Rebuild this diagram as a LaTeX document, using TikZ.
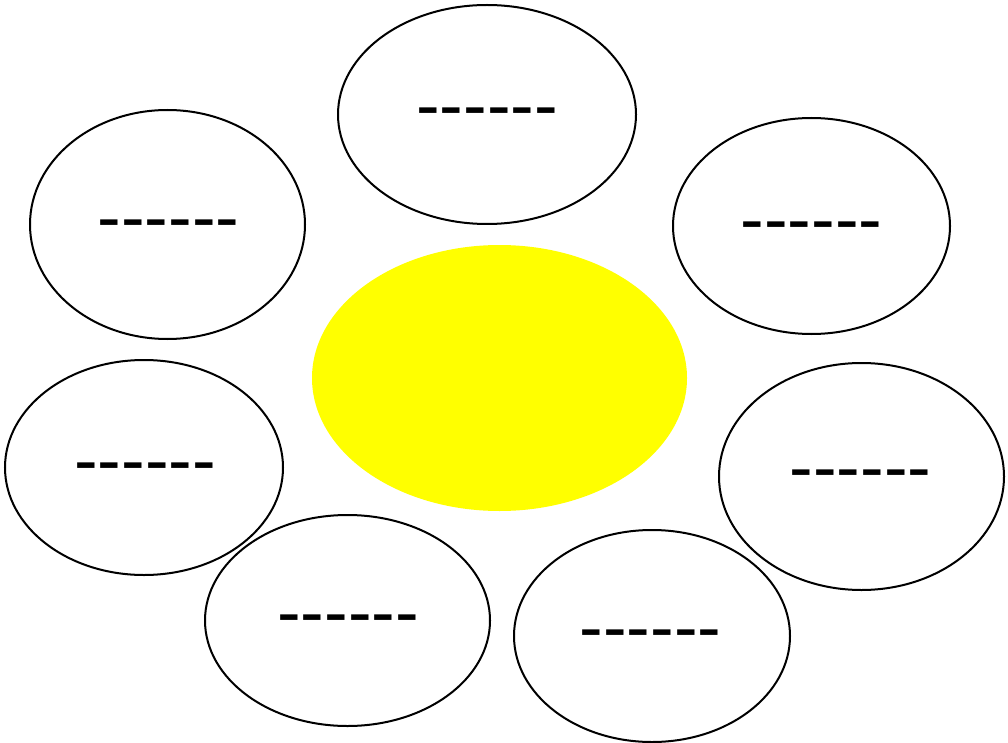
\documentclass[tikz,border=0pt]{standalone}
\usepackage{fontspec}
\setmainfont{Liberation Sans}
\usetikzlibrary{shapes.geometric}
\definecolor{pureyellow}{RGB}{255,255,0}
\newcommand{\hyph}{-{}-{}-{}-{}-{}-}
\begin{document}
\begin{tikzpicture}[x=1pt,y=-1pt,
  bub/.style={draw=black,line width=2pt,ellipse,inner sep=0pt},
  dashtxt/.style={inner sep=0pt,font=\fontsize{71}{71}\selectfont}]
\useasboundingbox[fill=white] (0,0) rectangle (1008,743);
\node[ellipse,fill=pureyellow,inner sep=0pt,minimum width=375pt,minimum height=266pt] (c) at (499.5,378) {};
\node[bub,minimum width=298pt,minimum height=219pt] (t) at (487,114.5) {};
\node[bub,minimum width=275pt,minimum height=229pt] (tl) at (167.5,224.5) {};
\node[bub,minimum width=277pt,minimum height=216pt] (tr) at (811.5,226) {};
\node[bub,minimum width=278pt,minimum height=215pt] (l) at (144,467.5) {};
\node[bub,minimum width=285pt,minimum height=227pt] (r) at (861.5,476.5) {};
\node[bub,minimum width=285pt,minimum height=211pt] (bl) at (347.5,620.5) {};
\node[bub,minimum width=276pt,minimum height=212pt] (br) at (652,636) {};
\node[dashtxt] (tt) at (487,119) {\hyph};
\node[dashtxt] (tlt) at (168.5,231) {\hyph};
\node[dashtxt] (trt) at (811.5,233) {\hyph};
\node[dashtxt] (lt) at (145,474) {\hyph};
\node[dashtxt] (rt) at (860.5,481) {\hyph};
\node[dashtxt] (blt) at (348,626) {\hyph};
\node[dashtxt] (brt) at (650.5,641) {\hyph};
\end{tikzpicture}
\end{document}
